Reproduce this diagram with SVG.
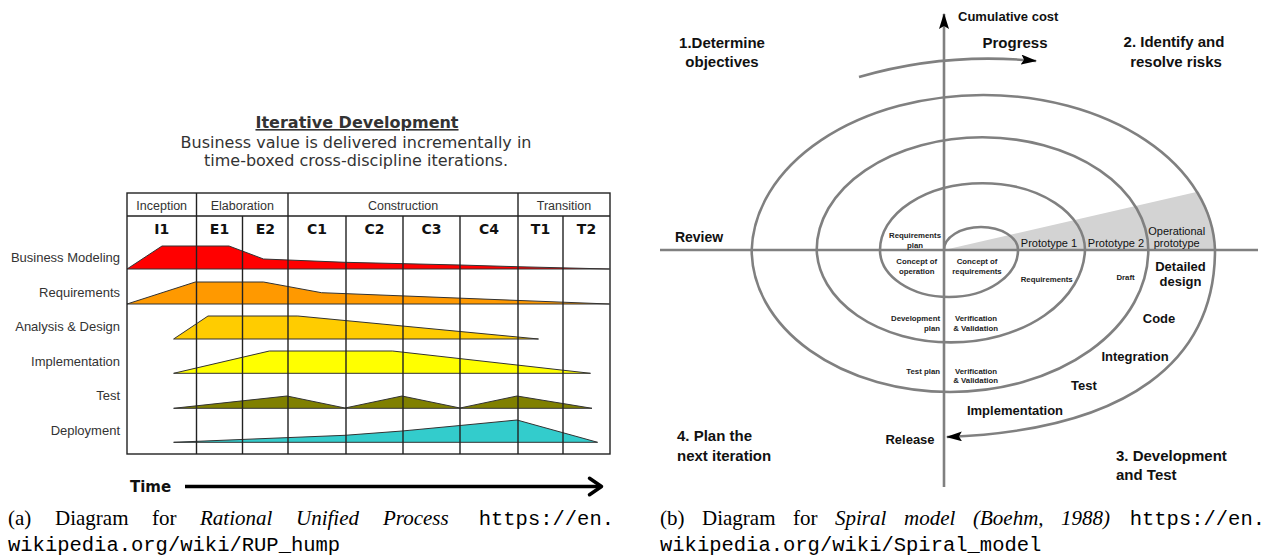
<svg xmlns="http://www.w3.org/2000/svg" width="1270" height="557" viewBox="0 0 1270 557">
<defs>
<style>
.bg{fill:#ffffff}
.title{font-family:"DejaVu Sans",Verdana,sans-serif;font-size:16px;font-weight:bold;fill:#333;text-decoration:underline}
.sub{font-family:"DejaVu Sans",Verdana,sans-serif;font-size:16px;fill:#333}
.phase{font-family:"Liberation Sans",Arial,sans-serif;font-size:12.5px;fill:#333}
.iter{font-family:"DejaVu Sans",Verdana,sans-serif;font-size:14px;font-weight:bold;fill:#111}
.row{font-family:"Liberation Sans",Arial,sans-serif;font-size:13px;fill:#333}
.grid{stroke:#222;stroke-width:1.4;fill:none}
.hump{stroke:#333;stroke-width:1}
.big{font-family:"Liberation Sans",Arial,sans-serif;font-size:15px;font-weight:bold;fill:#111}
.mid{font-family:"Liberation Sans",Arial,sans-serif;font-size:13px;font-weight:bold;fill:#111}
.proto{font-family:"Liberation Sans",Arial,sans-serif;font-size:11px;fill:#111}
.tiny{font-family:"Liberation Sans",Arial,sans-serif;font-size:7.8px;font-weight:bold;fill:#222}
.axis{stroke:#808080;stroke-width:2.6;fill:none}
.arc{stroke:#808080;stroke-width:2.6;fill:none}
.cap{font-family:"Liberation Serif","Times New Roman",serif;font-size:21px;fill:#000}
.capi{font-family:"Liberation Serif","Times New Roman",serif;font-size:21px;font-style:italic;fill:#000}
.mono{font-family:"Liberation Mono","Courier New",monospace;font-size:20.5px;fill:#000}
</style>
<marker id="ah" markerUnits="userSpaceOnUse" markerWidth="16" markerHeight="10" refX="15" refY="5" orient="auto" viewBox="0 0 16 10">
<path d="M0,0 L16,5 L0,10 L3,5 Z" fill="#000"/>
</marker>
</defs>
<rect class="bg" x="0" y="0" width="1270" height="557"/>

<!-- ===== (a) RUP hump ===== -->
<g id="rup-title">
<text class="title" x="357" y="128" text-anchor="middle">Iterative Development</text>
<text class="sub" x="356" y="148" text-anchor="middle">Business value is delivered incrementally in</text>
<text class="sub" x="356" y="166" text-anchor="middle">time-boxed cross-discipline iterations.</text>
</g>

<g id="rup-activities">
<g id="act-business-modeling">
<polygon class="hump" fill="#ff0000" points="127,269 162,246 229,246 263.5,259 345,262.3 460,265 517,266.7 609.5,269"/>
<text class="row" x="120" y="262" text-anchor="end">Business Modeling</text>
</g>
<g id="act-requirements">
<polygon class="hump" fill="#ff9900" points="127,304 195.3,282 263.5,282 321.5,292.7 517,300.4 609.5,304"/>
<text class="row" x="120" y="296.5" text-anchor="end">Requirements</text>
</g>
<g id="act-analysis-design">
<polygon class="hump" fill="#ffcc00" points="173.6,339 208,316 297.8,316 538.5,339"/>
<text class="row" x="120" y="331" text-anchor="end">Analysis &amp; Design</text>
</g>
<g id="act-implementation">
<polygon class="hump" fill="#ffff00" points="173.6,373.3 269.4,351 392.5,351 590.5,373.3"/>
<text class="row" x="120" y="366" text-anchor="end">Implementation</text>
</g>
<g id="act-test">
<polygon class="hump" fill="#808000" points="173.6,408.3 287,396 345,408 402,396 460,408 517,396 592,408.3"/>
<text class="row" x="120" y="399.5" text-anchor="end">Test</text>
</g>
<g id="act-deployment">
<polygon class="hump" fill="#33cccc" points="173.6,442.3 241,439.5 345,435.3 402,431 460,425.5 517,420 597.6,442.3"/>
<text class="row" x="120" y="434.5" text-anchor="end">Deployment</text>
</g>
</g>

<g id="rup-table">
<rect class="grid" x="127" y="193" width="483" height="261"/>
<line class="grid" x1="127" y1="216" x2="610" y2="216"/>
<line class="grid" x1="196.5" y1="193" x2="196.5" y2="454"/>
<line class="grid" x1="288" y1="193" x2="288" y2="454"/>
<line class="grid" x1="518" y1="193" x2="518" y2="454"/>
<line class="grid" x1="242.5" y1="216" x2="242.5" y2="454"/>
<line class="grid" x1="346" y1="216" x2="346" y2="454"/>
<line class="grid" x1="403" y1="216" x2="403" y2="454"/>
<line class="grid" x1="460" y1="216" x2="460" y2="454"/>
<line class="grid" x1="563" y1="216" x2="563" y2="454"/>
<text class="phase" x="161.7" y="209.5" text-anchor="middle">Inception</text>
<text class="phase" x="242.3" y="209.5" text-anchor="middle">Elaboration</text>
<text class="phase" x="403" y="209.5" text-anchor="middle">Construction</text>
<text class="phase" x="564" y="209.5" text-anchor="middle">Transition</text>
<text class="iter" x="161.7" y="233.5" text-anchor="middle">I1</text>
<text class="iter" x="219.5" y="233.5" text-anchor="middle">E1</text>
<text class="iter" x="265.3" y="233.5" text-anchor="middle">E2</text>
<text class="iter" x="317" y="233.5" text-anchor="middle">C1</text>
<text class="iter" x="374.5" y="233.5" text-anchor="middle">C2</text>
<text class="iter" x="431.5" y="233.5" text-anchor="middle">C3</text>
<text class="iter" x="489" y="233.5" text-anchor="middle">C4</text>
<text class="iter" x="540.5" y="233.5" text-anchor="middle">T1</text>
<text class="iter" x="586.5" y="233.5" text-anchor="middle">T2</text>
</g>

<g id="rup-time">
<text class="iter" x="130" y="491.5" style="font-size:15px">Time</text>
<line x1="185" y1="486.5" x2="600" y2="486.5" stroke="#000" stroke-width="3.5"/>
<polyline points="589.5,478.3 601.5,486.5 589.5,494.7" fill="none" stroke="#000" stroke-width="3.5" stroke-linecap="round" stroke-linejoin="round"/>
</g>

<!-- ===== (b) Spiral model ===== -->
<g id="spiral-wedge">
<path d="M944,250 L1198.6,191.5 A231.7,158.3 0 0 1 1215,250 Z" fill="#d3d3d3"/>
</g>

<g id="spiral-axes">
<line class="axis" x1="660" y1="250" x2="1258" y2="250"/>
<path class="axis" d="M944,487 L944,14" marker-end="url(#ah)"/>
</g>

<g id="connectors">
<path class="arc" d="M944,250 A37,23 0 0 1 1018,250 A69,47 0 0 1 880,250 A102.5,66.7 0 0 1 1085,250 A134.2,95 0 0 1 816.7,250 A165.8,112.7 0 0 1 1148.3,250 A198.3,142 0 0 1 751.7,250 A231.7,158.3 0 0 1 1215,250"/>
<path class="arc" d="M1215,250 C1215,360 1130,430 947,437" marker-end="url(#ah)"/>
<path class="arc" d="M859,77 Q945,52 1036,61" marker-end="url(#ah)"/>
</g>

<g id="quadrant-labels">
<text class="mid" x="958" y="21">Cumulative cost</text>
<text class="big" x="722" y="48" text-anchor="middle">1.Determine</text>
<text class="big" x="722" y="67" text-anchor="middle">objectives</text>
<text class="big" x="1015" y="47.5" text-anchor="middle">Progress</text>
<text class="big" x="1174" y="47" text-anchor="middle">2. Identify and</text>
<text class="big" x="1176" y="66.5" text-anchor="middle">resolve risks</text>
<text class="big" x="677" y="441">4. Plan the</text>
<text class="big" x="677" y="461">next iteration</text>
<text class="big" x="1116" y="461">3. Development</text>
<text class="big" x="1116" y="480">and Test</text>
<text class="mid" x="699" y="241.5" text-anchor="middle" style="font-size:14px">Review</text>
<text class="mid" x="910" y="444" text-anchor="middle">Release</text>
</g>

<g id="spiral-labels">
<text class="tiny" x="915" y="238" text-anchor="middle">Requirements</text>
<text class="tiny" x="915" y="247.5" text-anchor="middle">plan</text>
<text class="tiny" x="916.7" y="264" text-anchor="middle">Concept of</text>
<text class="tiny" x="916.7" y="274" text-anchor="middle">operation</text>
<text class="tiny" x="977" y="264" text-anchor="middle">Concept of</text>
<text class="tiny" x="977" y="274" text-anchor="middle">requirements</text>
<text class="proto" x="1049" y="246.5" text-anchor="middle">Prototype 1</text>
<text class="proto" x="1116" y="246.5" text-anchor="middle">Prototype 2</text>
<text class="proto" x="1176.7" y="234.5" text-anchor="middle">Operational</text>
<text class="proto" x="1176.7" y="246.5" text-anchor="middle">prototype</text>
<text class="tiny" x="1046.7" y="281.5" text-anchor="middle">Requirements</text>
<text class="tiny" x="1125.5" y="280" text-anchor="middle">Draft</text>
<text class="mid" x="1180.5" y="270.5" text-anchor="middle">Detailed</text>
<text class="mid" x="1180.5" y="286" text-anchor="middle">design</text>
<text class="mid" x="1159" y="322.5" text-anchor="middle">Code</text>
<text class="mid" x="1135" y="360.5" text-anchor="middle">Integration</text>
<text class="mid" x="1084" y="390" text-anchor="middle">Test</text>
<text class="mid" x="1015" y="415" text-anchor="middle">Implementation</text>
<text class="tiny" x="940" y="321" text-anchor="end">Development</text>
<text class="tiny" x="940" y="331" text-anchor="end">plan</text>
<text class="tiny" x="955" y="321">Verification</text>
<text class="tiny" x="953.3" y="331">&amp; Validation</text>
<text class="tiny" x="940" y="374" text-anchor="end">Test plan</text>
<text class="tiny" x="955" y="373.5">Verification</text>
<text class="tiny" x="953.3" y="382.5">&amp; Validation</text>
</g>

<!-- ===== captions ===== -->
<g id="caption-a">
<text y="525"><tspan class="cap" x="8">(a)</tspan><tspan class="cap" x="55">Diagram</tspan><tspan class="cap" x="152">for</tspan><tspan class="capi" x="200">Rational</tspan><tspan class="capi" x="296">Unified</tspan><tspan class="capi" x="383">Process</tspan><tspan class="mono" x="478.7">https://en.</tspan></text>
<text class="mono" x="8" y="551">wikipedia.org/wiki/RUP_hump</text>
</g>
<g id="caption-b">
<text y="525"><tspan class="cap" x="660">(b)</tspan><tspan class="cap" x="702">Diagram</tspan><tspan class="cap" x="793">for</tspan><tspan class="capi" x="835">Spiral</tspan><tspan class="capi" x="904">model</tspan><tspan class="capi" x="973">(Boehm,</tspan><tspan class="capi" x="1061">1988)</tspan><tspan class="mono" x="1129.7">https://en.</tspan></text>
<text class="mono" x="660" y="551">wikipedia.org/wiki/Spiral_model</text>
</g>
</svg>
